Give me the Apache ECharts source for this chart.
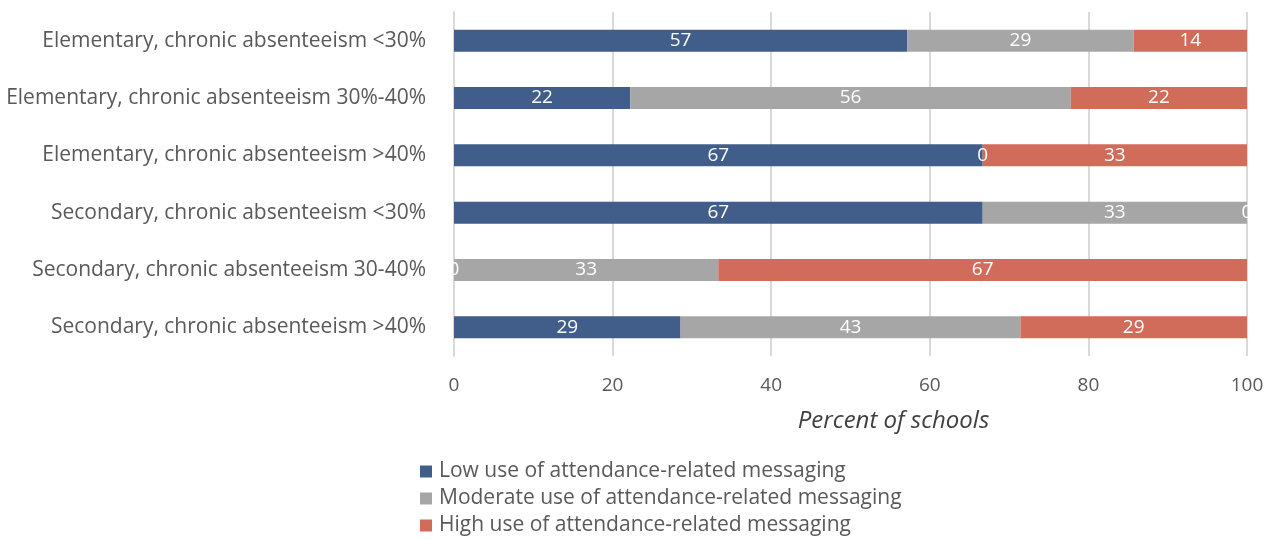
<!DOCTYPE html>
<html><head><meta charset="utf-8">
<script src="https://cdn.jsdelivr.net/npm/echarts@6/dist/echarts.min.js"></script>
<style>html,body{margin:0;padding:0;background:#fff}#c{width:1268px;height:539px}</style>
</head><body><div id="c"></div>
<script>
const categories = [
  "Elementary, chronic absenteeism <30%",
  "Elementary, chronic absenteeism 30%-40%",
  "Elementary, chronic absenteeism >40%",
  "Secondary, chronic absenteeism <30%",
  "Secondary, chronic absenteeism 30-40%",
  "Secondary, chronic absenteeism >40%"
];
const seriesNames = [
  "Low use of attendance-related messaging",
  "Moderate use of attendance-related messaging",
  "High use of attendance-related messaging"
];
const lowUse = [57.14, 22.22, 66.67, 66.67, 0, 28.57];
const moderateUse = [28.57, 55.56, 0, 33.33, 33.33, 42.86];
const highUse = [14.29, 22.22, 33.33, 0, 66.67, 28.57];
const colors = ["#405E89", "#A6A6A6", "#D16B5A"];
const xTicks = [0, 20, 40, 60, 80, 100];

const font = "'Open Sans', sans-serif";
const values = [lowUse, moderateUse, highUse];
const chart = echarts.init(document.getElementById('c'));
chart.setOption({
  animation: false,
  textStyle: { fontFamily: font },
  grid: { left: 454, right: 21, top: 12, height: 344 },
  legend: {
    orient: 'vertical', left: 420, top: 461, padding: 0,
    itemWidth: 12, itemHeight: 12, itemGap: 6,
    icon: 'rect',
    textStyle: { color: '#595959', fontSize: 21, lineHeight: 21, fontFamily: font, padding: [0, 0, 0, 2] },
    data: seriesNames
  },
  xAxis: {
    type: 'value', min: 0, max: 100, interval: 20,
    axisLine: { show: false }, axisTick: { show: false },
    splitLine: { lineStyle: { color: '#D9D9D9', width: 2 } },
    axisLabel: { color: '#595959', fontSize: 19, margin: 20,
      formatter: v => xTicks.includes(v) ? String(v) : '' },
    name: 'Percent of schools', nameLocation: 'middle', nameGap: 53,
    nameTextStyle: { color: '#404040', fontSize: 24, fontStyle: 'italic', padding: [0, 0, 0, 86] }
  },
  yAxis: {
    type: 'category', data: categories, inverse: true,
    axisLine: { show: true, lineStyle: { color: '#D9D9D9', width: 2 } },
    axisTick: { show: false },
    axisLabel: { color: '#595959', fontSize: 21, margin: 28 }
  },
  series: values.map((arr, i) => ({
    name: seriesNames[i], type: 'bar', stack: 'total', barWidth: 22,
    itemStyle: { color: colors[i] },
    label: { show: true, position: 'inside', color: '#fff', fontSize: 19,
      formatter: p => String(Math.round(p.value)) },
    data: arr
  }))
});
</script></body></html>
